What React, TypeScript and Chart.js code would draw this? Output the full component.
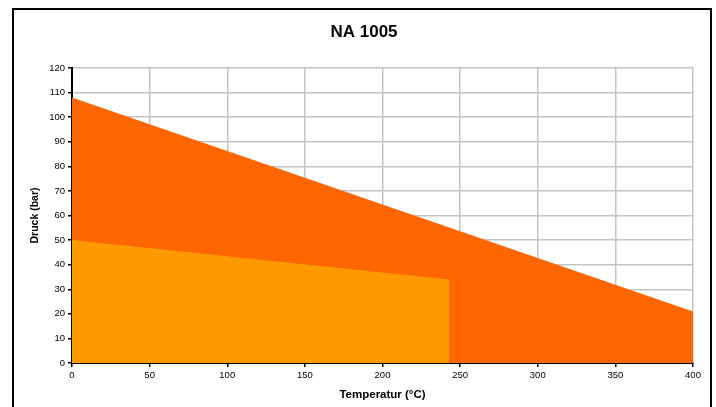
import React, { useEffect, useRef } from "react";
import { Chart, registerables } from "chart.js";

Chart.register(...registerables);

const chartTitle = "NA 1005";
const xAxisTitle = "Temperatur (°C)";
const yAxisTitle = "Druck (bar)";

// upper (dark orange) limit curve
const upperTemps = [0, 400];
const upperPressures = [108, 21];
// lower (light orange) limit curve
const lowerTemps = [0, 243];
const lowerPressures = [50, 34];

const xMin = 0;
const xMax = 400;
const xStep = 50;
const yMin = 0;
const yMax = 120;
const yStep = 10;

const darkColor = "#FF6600";
const lightColor = "#FF9900";
const gridColor = "#C4C4C4";
const fontFamily = "'Liberation Sans', Arial, sans-serif";

export default function App() {
  const canvasRef = useRef<HTMLCanvasElement | null>(null);

  useEffect(() => {
    if (!canvasRef.current) return;
    const lowerData = lowerTemps.map((t, i) => ({ x: t, y: lowerPressures[i] }));
    const upperData = upperTemps.map((t, i) => ({ x: t, y: upperPressures[i] }));

    const chart = new Chart(canvasRef.current, {
      type: "line",
      data: {
        datasets: [
          {
            label: "lower",
            data: lowerData,
            fill: "origin",
            backgroundColor: lightColor,
            borderColor: lightColor,
            borderWidth: 0,
            pointRadius: 0,
            tension: 0,
          },
          {
            label: "upper",
            data: upperData,
            fill: "origin",
            backgroundColor: darkColor,
            borderColor: darkColor,
            borderWidth: 0,
            pointRadius: 0,
            tension: 0,
          },
        ],
      },
      options: {
        responsive: false,
        animation: false,
        devicePixelRatio: 1,
        layout: { padding: { left: 12, right: 0, top: 0, bottom: 0 } },
        plugins: {
          legend: { display: false },
          tooltip: { enabled: false },
          title: {
            display: true,
            text: chartTitle,
            color: "#000",
            font: { family: fontFamily, size: 17, weight: "bold", lineHeight: 1.2 },
            padding: { top: 21.8, bottom: 25.8 },
          },
        },
        scales: {
          x: {
            type: "linear",
            min: xMin,
            max: xMax,
            ticks: {
              stepSize: xStep,
              color: "#000",
              font: { family: fontFamily, size: 9.5 },
              padding: 3,
              maxRotation: 0,
            },
            grid: {
              color: gridColor,
              lineWidth: 1.5,
              drawTicks: true,
              tickLength: 4,
              tickColor: "#000",
              tickWidth: 1.5,
            },
            border: { color: "#000", width: 2 },
            title: {
              display: true,
              text: xAxisTitle,
              color: "#000",
              font: { family: fontFamily, size: 11.5, weight: "bold", lineHeight: 1.2 },
              padding: { top: 0, bottom: 5 },
            },
            afterFit: (scale: any) => {
              scale.height = 44;
              scale.paddingRight = 23;
              scale.paddingLeft = 0;
            },
          },
          y: {
            type: "linear",
            min: yMin,
            max: yMax,
            ticks: {
              stepSize: yStep,
              color: "#000",
              font: { family: fontFamily, size: 9.5 },
              padding: 3,
            },
            grid: {
              color: gridColor,
              lineWidth: 1.5,
              drawTicks: true,
              tickLength: 4,
              tickColor: "#000",
              tickWidth: 1.5,
            },
            border: { color: "#000", width: 2 },
            title: {
              display: true,
              text: yAxisTitle,
              color: "#000",
              font: { family: fontFamily, size: 10.5, weight: "bold", lineHeight: 1.2 },
              padding: { top: 16.7, bottom: 0 },
            },
            afterFit: (scale: any) => {
              scale.width = 60;
              scale.paddingTop = 0;
              scale.paddingBottom = 0;
            },
          },
        },
      },
    });
    return () => chart.destroy();
  }, []);

  return (
    <div
      style={{
        position: "absolute",
        left: 0,
        top: 0,
        width: 716,
        height: 407,
        overflow: "hidden",
        background: "#fff",
      }}
    >
      <div
        style={{
          position: "absolute",
          left: 12,
          top: 8,
          width: 700,
          height: 420,
          boxSizing: "border-box",
          border: "2px solid #000",
        }}
      />
      <canvas
        ref={canvasRef}
        width={716}
        height={407}
        style={{ position: "absolute", left: 0, top: 0, width: 716, height: 407 }}
      />
    </div>
  );
}
